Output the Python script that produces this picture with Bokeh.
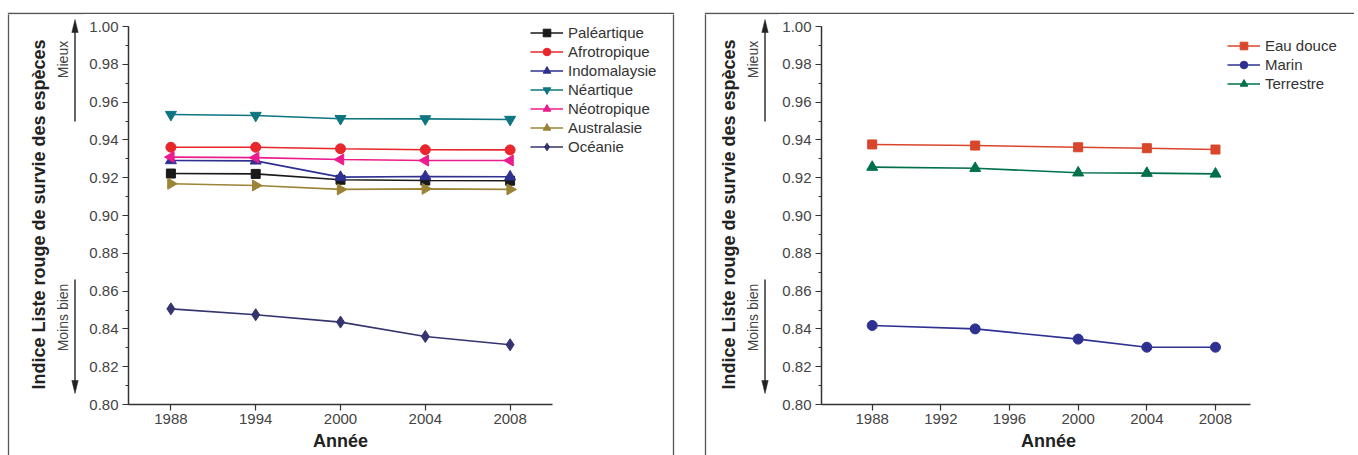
import math
from bokeh.plotting import figure
from bokeh.models import (Range1d, FixedTicker, Legend, LegendItem, Title, NumeralTickFormatter)
from bokeh.layouts import row, column
from bokeh.core.properties import value
from bokeh.embed import file_html
from bokeh.resources import INLINE

# ---------------- data ----------------
years_left = ["1988", "1994", "2000", "2004", "2008"]
palearctique = [0.9222, 0.9220, 0.9189, 0.9185, 0.9184]
afrotropique = [0.9361, 0.9361, 0.9353, 0.9348, 0.9347]
indomalaysie = [0.9291, 0.9289, 0.9203, 0.9206, 0.9205]
nearctique = [0.9534, 0.9529, 0.9512, 0.9511, 0.9508]
neotropique = [0.9309, 0.9306, 0.9296, 0.9291, 0.9291]
australasie = [0.9168, 0.9159, 0.9138, 0.9141, 0.9138]
oceanie = [0.8506, 0.8475, 0.8436, 0.8360, 0.8316]

years_right = [1988, 1994, 2000, 2004, 2008]
eau_douce = [0.9376, 0.9370, 0.9361, 0.9356, 0.9349]
marin = [0.8418, 0.8400, 0.8346, 0.8303, 0.8303]
terrestre = [0.9256, 0.9250, 0.9226, 0.9224, 0.9220]

y_ticks = [0.80, 0.82, 0.84, 0.86, 0.88, 0.90, 0.92, 0.94, 0.96, 0.98, 1.00]
y_minor_ticks = [round(0.80 + 0.01 * i, 2) for i in range(21)]
x_ticks_right = [1988, 1992, 1996, 2000, 2004, 2008]

y_label = "Indice Liste rouge de survie des espèces"
x_label = "Année"
better_label = "Mieux"
worse_label = "Moins bien"

FONT = "Liberation Sans"
H = 455
TOP = 14          # height of the top strip (holds the frame's top edge)
ROW_H = H - TOP
PX_PER_UNIT = 1890.0              # vertical scale of the value axis
Y_TOP = 1.00 + 12 / PX_PER_UNIT   # a little head-room above 1.00 for the legend

# ---------------- decorations (page pixel coordinates) ----------------
frame_lines = [([8, 8, 673, 673], [470, 13, 13, 470]),
               ([705, 705, 1400], [470, 13, 13])]
panel_dx = [0, 690]


def no_align(f):
    if hasattr(f, "frame_align"):
        f.frame_align = False


def draw_decor(f, text_panels):
    kw = dict(line_color="#555555", line_width=1.3, line_join="miter")
    f.multi_line([fl[0] for fl in frame_lines], [[-v for v in fl[1]] for fl in frame_lines], **kw)
    for i, dx in enumerate(panel_dx):
        ax = 74.5 + dx
        f.segment(x0=[ax, ax], y0=[-121, -279], x1=[ax, ax], y1=[-29, -382],
                  line_color="#333333", line_width=1.5)
        f.patches([[ax, ax - 3.2, ax + 3.2], [ax, ax - 3.2, ax + 3.2]],
                  [[-19, -32, -32], [-393, -380, -380]],
                  fill_color="#222222", line_color="#222222", line_width=0.5)
        if i in text_panels:
            f.text(x=[38.5 + dx], y=[-214], text=[y_label], angle=math.pi / 2,
                   text_align="center", text_baseline="middle", text_font=value(FONT),
                   text_font_size="18px", text_font_style="bold", text_color="#222222")
            f.text(x=[62 + dx, 62 + dx], y=[-59, -317], text=[better_label, worse_label],
                   angle=math.pi / 2, text_align="center", text_baseline="middle",
                   text_font=value(FONT), text_font_size="14px", text_color="#444444")


def decor_fig(x0, y0, x1, y1, text_panels):
    f = figure(width=x1 - x0, height=y1 - y0, x_range=Range1d(x0, x1), y_range=Range1d(-y1, -y0),
               min_border=0, x_axis_location=None, y_axis_location=None,
               toolbar_location=None, output_backend="svg")
    f.outline_line_color = None
    f.grid.visible = False
    no_align(f)
    draw_decor(f, text_panels)
    return f


def style_axes(p):
    for ax in (p.xaxis[0], p.yaxis[0]):
        ax.axis_line_color = "#333333"
        ax.axis_line_width = 1.5
        ax.major_tick_line_color = "#333333"
        ax.major_tick_line_width = 1.2
        ax.minor_tick_line_color = "#333333"
        ax.major_tick_in = 0
        ax.major_tick_out = 6
        ax.minor_tick_in = 0
        ax.minor_tick_out = 3
        ax.major_label_text_font = FONT
        ax.major_label_text_font_size = "15px"
        ax.major_label_text_color = "#444444"
        ax.axis_label = None
    p.xaxis[0].major_label_standoff = 3
    p.xaxis[0].minor_tick_out = 0
    p.yaxis[0].major_label_standoff = 4
    p.yaxis[0].ticker = FixedTicker(ticks=y_ticks, minor_ticks=y_minor_ticks)
    p.yaxis[0].formatter = NumeralTickFormatter(format="0.00")
    p.yaxis[0].bounds = (y_ticks[0], y_ticks[-1])
    p.grid.visible = False
    p.outline_line_color = None


def add_xtitle(p, offset):
    p.add_layout(Title(text=x_label, align="left", offset=offset, standoff=4,
                       text_font=FONT, text_font_size="18px", text_font_style="bold",
                       text_color="#222222"), "below")


def make_legend(p, entries, loc):
    items = [LegendItem(label=lab, renderers=rs) for lab, rs in entries]
    lg = Legend(items=items, location=loc)
    lg.border_line_color = None
    lg.background_fill_alpha = 0
    lg.padding = 0
    lg.margin = 0
    lg.spacing = 0
    lg.glyph_height = 19
    lg.label_height = 19
    lg.glyph_width = 33
    lg.label_standoff = 5
    lg.label_text_font = FONT
    lg.label_text_font_size = "15px"
    lg.label_text_color = "#333333"
    lg.label_text_baseline = "middle"
    p.add_layout(lg)


# ---------------- left panel ----------------
x_idx = list(range(len(years_left)))
p1 = figure(width=586, height=ROW_H, x_range=Range1d(-0.5, 5.8915), y_range=Range1d(0.80, Y_TOP),
            output_backend="svg", toolbar_location=None,
            min_border_left=44, min_border_right=0, min_border_top=0, min_border_bottom=51)
style_axes(p1)
p1.xaxis[0].ticker = FixedTicker(ticks=x_idx)
p1.xaxis[0].major_label_overrides = {i: y for i, y in zip(x_idx, years_left)}
p1.xaxis[0].bounds = (-0.5, len(years_left) - 0.5)
add_xtitle(p1, 184.5)

series_left = [
    ("Paléartique", palearctique, "#1a1a1a", "square", 0, 9),
    ("Afrotropique", afrotropique, "#e8262b", "circle", 0, 10),
    ("Indomalaysie", indomalaysie, "#2e3192", "triangle", 0, 11),
    ("Néartique", nearctique, "#0f7580", "inverted_triangle", 0, 11),
    ("Néotropique", neotropique, "#ec1c8c", "triangle", math.pi / 2, 11),
    ("Australasie", australasie, "#9c8437", "triangle", -math.pi / 2, 11),
    ("Océanie", oceanie, "#34346e", "diamond", 0, 12),
]
entries = []
for lab, vals, col, mk, ang, sz in series_left:
    lr = p1.line(x_idx, vals, line_color=col, line_width=1.6)
    sr = p1.scatter(x_idx, vals, marker=mk, angle=ang, size=sz, fill_color=col, line_color=col)
    entries.append((lab, [lr, sr]))
make_legend(p1, entries, (402, 248.5))

# ---------------- right panel ----------------
p2 = figure(width=575, height=ROW_H, x_range=Range1d(1985.046, 2016.1), y_range=Range1d(0.80, Y_TOP),
            output_backend="svg", toolbar_location=None,
            min_border_left=42, min_border_right=0, min_border_top=0, min_border_bottom=51)
style_axes(p2)
p2.xaxis[0].ticker = FixedTicker(ticks=x_ticks_right)
p2.xaxis[0].bounds = (1985.046, 2010.04)
add_xtitle(p2, 199.5)

series_right = [
    ("Eau douce", eau_douce, "#d8472b", "square", 9),
    ("Marin", marin, "#2e3192", "circle", 10),
    ("Terrestre", terrestre, "#00704a", "triangle", 11),
]
entries = []
for lab, vals, col, mk, sz in series_right:
    lr = p2.line(years_right, vals, line_color=col, line_width=1.6)
    sr = p2.scatter(years_right, vals, marker=mk, size=sz, fill_color=col, line_color=col)
    entries.append((lab, [lr, sr]))
make_legend(p2, entries, (406, 311.5))

# ---------------- assemble ----------------
top = decor_fig(0, 0, 1354, TOP, [])
d1 = decor_fig(0, TOP, 84, H, [0])
d2 = decor_fig(670, TOP, 779, H, [1])

layout = column(top, row(d1, p1, d2, p2))
open("out.html", "w").write(file_html(layout, INLINE))
